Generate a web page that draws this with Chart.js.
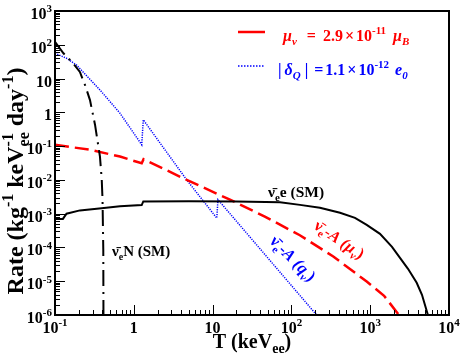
<!DOCTYPE html>
<html>
<head>
<meta charset="utf-8">
<script src="https://cdn.jsdelivr.net/npm/chart.js@4.4.1/dist/chart.umd.min.js"></script>
<style>
  body { margin: 0; background: #fff; }
</style>
</head>
<body>
<canvas id="rateChart" width="463" height="359"></canvas>
<script>
// Curve data (T in keV_ee, rate in kg^-1 keV^-1 day^-1)
const tNuE = [0.1, 0.126, 0.14, 0.207, 0.39, 0.668, 1.26, 1.32, 5, 20, 71.6, 128.5, 230, 414, 641, 903, 1331, 1891, 2388, 3019, 3891, 4540, 5400];
const rateNuE = [6.9e-4, 7.0e-4, 1.0e-3, 1.25e-3, 1.45e-3, 1.65e-3, 1.8e-3, 2.3e-3, 2.35e-3, 2.3e-3, 2.16e-3, 1.82e-3, 1.49e-3, 1.06e-3, 7.5e-4, 4.67e-4, 2.52e-4, 1.04e-4, 4.92e-5, 2.33e-5, 8.97e-6, 3.96e-6, 1e-6];

const tNuN = [0.1, 0.128, 0.164, 0.207, 0.24, 0.278, 0.322, 0.372, 0.392, 0.401, 0.41, 0.412];
const rateNuN = [123, 56, 31, 15.7, 6.5, 2.3, 0.43, 0.049, 0.01, 2.6e-3, 8.5e-5, 1e-6];

const tMu = [0.1, 0.278, 0.668, 1.26, 1.33, 4.69, 16.6, 46, 128, 340, 903, 1500, 2320];
const rateMu = [0.109, 0.078, 0.049, 0.031, 0.041, 0.010, 2.6e-3, 8.2e-4, 2.3e-4, 5.4e-5, 9.8e-6, 3.7e-6, 1e-6];

const tDq = [0.1, 0.14, 0.188, 0.372, 0.668, 1.26, 1.32, 4.69, 11.3, 11.7, 209];
const rateDq = [56, 40, 25, 4.6, 0.94, 0.11, 0.6, 0.010, 7.4e-4, 2.6e-3, 1e-6];

// Axis ticks
const xTicks = [0.1, 1, 10, 100, 1000, 10000];
const xTickLabels = ['10^-1', '1', '10', '10^2', '10^3', '10^4'];
const yTicks = [1e-6, 1e-5, 1e-4, 1e-3, 1e-2, 1e-1, 1, 10, 100, 1000];
const yTickLabels = ['10^-6', '10^-5', '10^-4', '10^-3', '10^-2', '10^-1', '1', '10', '10^2', '10^3'];

const FAMILY = '"Liberation Serif", "Times New Roman", serif';

function toPoints(xs, ys) {
  return xs.map((x, i) => ({ x: x, y: ys[i] }));
}

function fontOf(size, italic) {
  return (italic ? 'italic ' : '') + 'bold ' + size + 'px ' + FAMILY;
}

// segs: {t, s:'n'|'sup'|'sub'|'both', it, sup, sub}
function segWidth(ctx, seg, size) {
  const small = Math.round(size * 0.68);
  if (seg.s === 'both') {
    ctx.font = fontOf(small, seg.it);
    return Math.max(ctx.measureText(seg.sup).width, ctx.measureText(seg.sub).width);
  }
  ctx.font = fontOf(seg.s === 'n' || !seg.s ? size : small, seg.it);
  return ctx.measureText(seg.t).width;
}

function drawRich(ctx, segs, x, y, size, align) {
  const small = Math.round(size * 0.68);
  let total = 0;
  segs.forEach(sg => { total += segWidth(ctx, sg, size) + (sg.gap || 0); });
  let cx = align === 'center' ? x - total / 2 : align === 'right' ? x - total : x;
  ctx.textAlign = 'left';
  ctx.textBaseline = 'alphabetic';
  segs.forEach(sg => {
    const w = segWidth(ctx, sg, size);
    if (sg.s === 'both') {
      ctx.font = fontOf(small, sg.it);
      ctx.fillText(sg.sup, cx, y - size * 0.42);
      ctx.fillText(sg.sub, cx, y + size * 0.25);
    } else if (sg.s === 'sup') {
      ctx.font = fontOf(small, sg.it);
      ctx.fillText(sg.t, cx, y - size * 0.42);
    } else if (sg.s === 'sub') {
      ctx.font = fontOf(small, sg.it);
      ctx.fillText(sg.t, cx, y + size * 0.25);
    } else {
      ctx.font = fontOf(size, sg.it);
      ctx.fillText(sg.t, cx, y);
    }
    cx += w + (sg.gap || 0);
  });
}

function tickSegs(label) {
  const parts = label.split('^');
  const segs = [{ t: parts[0], s: 'n' }];
  if (parts[1]) segs.push({ t: parts[1], s: 'sup' });
  return segs;
}

const NUBAR = '\u03BD\u0304';

const framePlugin = {
  id: 'frame',
  afterDatasetsDraw(chart) {
    const ctx = chart.ctx;
    const a = chart.chartArea;
    const xs = chart.scales.x;
    const ys = chart.scales.y;
    ctx.save();
    ctx.strokeStyle = '#000';
    ctx.fillStyle = '#000';

    // ticks: major and minor, inside, left and bottom only
    ctx.lineWidth = 1;
    ctx.beginPath();
    for (let e = -1; e < 4; e++) {
      for (let m = 1; m <= 9; m++) {
        const v = m * Math.pow(10, e);
        const px = Math.round(xs.getPixelForValue(v)) + 0.5;
        const len = m === 1 ? 10 : 5;
        ctx.moveTo(px, a.bottom);
        ctx.lineTo(px, a.bottom - len);
      }
    }
    for (let e = -6; e < 3; e++) {
      for (let m = 1; m <= 9; m++) {
        const v = m * Math.pow(10, e);
        const py = Math.round(ys.getPixelForValue(v)) + 0.5;
        const len = m === 1 ? 10 : 5;
        ctx.moveTo(a.left, py);
        ctx.lineTo(a.left + len, py);
      }
    }
    ctx.stroke();

    // frame
    ctx.lineWidth = 2;
    ctx.strokeRect(a.left, a.top, a.right - a.left, a.bottom - a.top);

    // tick labels
    xTicks.forEach((v, i) => {
      drawRich(ctx, tickSegs(xTickLabels[i]), xs.getPixelForValue(v), a.bottom + 18, 16, 'center');
    });
    yTicks.forEach((v, i) => {
      drawRich(ctx, tickSegs(yTickLabels[i]), a.left - 3, ys.getPixelForValue(v) + 8, 16, 'right');
    });

    // axis titles
    drawRich(ctx, [
      { t: 'T (keV', s: 'n' }, { t: 'ee', s: 'sub' }, { t: ')', s: 'n' }
    ], (a.left + a.right) / 2, 348, 20, 'center');

    ctx.save();
    ctx.translate(23, 181);
    ctx.rotate(-Math.PI / 2);
    drawRich(ctx, [
      { t: 'Rate (kg', s: 'n' }, { t: '-1', s: 'sup' },
      { t: ' keV', s: 'n' }, { s: 'both', sup: '-1', sub: 'ee' },
      { t: ' day', s: 'n' }, { t: '-1', s: 'sup' }, { t: ')', s: 'n' }
    ], 0, 0, 24, 'center');
    ctx.restore();

    // legend
    ctx.lineWidth = 2.5;
    ctx.strokeStyle = '#ff0000';
    ctx.beginPath();
    ctx.moveTo(238, 32);
    ctx.lineTo(265, 32);
    ctx.stroke();
    ctx.lineWidth = 1.5;
    ctx.strokeStyle = '#0000ff';
    ctx.setLineDash([1.5, 1.5]);
    ctx.beginPath();
    ctx.moveTo(238, 66);
    ctx.lineTo(264, 66);
    ctx.stroke();
    ctx.setLineDash([]);

    ctx.fillStyle = '#ff0000';
    drawRich(ctx, [
      { t: '\u03BC', s: 'n', it: true }, { t: '\u03BD', s: 'sub', it: true, gap: 10 },
      { t: '=', s: 'n', gap: 7 }, { t: '2.9', s: 'n', gap: 2 }, { t: '\u00D7', s: 'n', gap: 2 },
      { t: '10', s: 'n' }, { t: '-11', s: 'sup', gap: 7 },
      { t: '\u03BC', s: 'n', it: true }, { t: 'B', s: 'sub', it: true }
    ], 283, 41, 16, 'left');

    ctx.fillStyle = '#0000ff';
    drawRich(ctx, [
      { t: '|', s: 'n', gap: 3 }, { t: '\u03B4', s: 'n', it: true }, { t: 'Q', s: 'sub', it: true, gap: 4 },
      { t: '|', s: 'n', gap: 6 }, { t: '=', s: 'n', gap: 2 }, { t: '1.1', s: 'n', gap: 2 },
      { t: '\u00D7', s: 'n', gap: 2 }, { t: '10', s: 'n' }, { t: '-12', s: 'sup', gap: 6 },
      { t: 'e', s: 'n', it: true }, { t: '0', s: 'sub', it: true }
    ], 278, 75, 16, 'left');

    // curve labels
    ctx.fillStyle = '#000';
    drawRich(ctx, [
      { t: NUBAR, s: 'n' }, { t: 'e', s: 'sub' }, { t: 'N (SM)', s: 'n' }
    ], 112, 256, 15, 'left');
    drawRich(ctx, [
      { t: NUBAR, s: 'n' }, { t: 'e', s: 'sub' }, { t: 'e (SM)', s: 'n' }
    ], 268, 197, 15.5, 'left');

    ctx.save();
    ctx.fillStyle = '#ff0000';
    ctx.translate(313, 228);
    ctx.rotate(34 * Math.PI / 180);
    drawRich(ctx, [
      { t: NUBAR, s: 'n' }, { t: 'e', s: 'sub' }, { t: '-', s: 'n' }, { t: 'A', s: 'n', it: true },
      { t: ' (\u03BC', s: 'n', it: true }, { t: '\u03BD', s: 'sub', it: true }, { t: ')', s: 'n' }
    ], 0, 0, 16, 'left');
    ctx.restore();

    ctx.save();
    ctx.fillStyle = '#0000ff';
    ctx.translate(269, 242);
    ctx.rotate(45 * Math.PI / 180);
    drawRich(ctx, [
      { t: NUBAR, s: 'n' }, { t: 'e', s: 'sub' }, { t: '-', s: 'n' }, { t: 'A', s: 'n', it: true },
      { t: ' (q', s: 'n', it: true }, { t: '\u03BD', s: 'sub', it: true }, { t: ')', s: 'n' }
    ], 0, 0, 16.5, 'left');
    ctx.restore();

    ctx.restore();
  }
};

new Chart(document.getElementById('rateChart'), {
  type: 'line',
  data: {
    datasets: [
      { label: 'nuN', data: toPoints(tNuN, rateNuN), borderColor: '#000', borderWidth: 2, borderDash: [16, 6, 2, 6] },
      { label: 'nuE', data: toPoints(tNuE, rateNuE), borderColor: '#000', borderWidth: 2 },
      { label: 'mu', data: toPoints(tMu, rateMu), borderColor: '#ff0000', borderWidth: 2.5, borderDash: [14, 6] },
      { label: 'dq', data: toPoints(tDq, rateDq), borderColor: '#0000ff', borderWidth: 1.5, borderDash: [1.2, 1.2] }
    ]
  },
  options: {
    responsive: false,
    animation: false,
    devicePixelRatio: 1,
    layout: { padding: { left: 55, top: 11, right: 14, bottom: 44 } },
    elements: { point: { radius: 0 }, line: { tension: 0, fill: false } },
    plugins: { legend: { display: false }, tooltip: { enabled: false } },
    scales: {
      x: { type: 'logarithmic', min: 0.1, max: 10000, display: false },
      y: { type: 'logarithmic', min: 1e-6, max: 1000, display: false }
    }
  },
  plugins: [framePlugin]
});
</script>
</body>
</html>
